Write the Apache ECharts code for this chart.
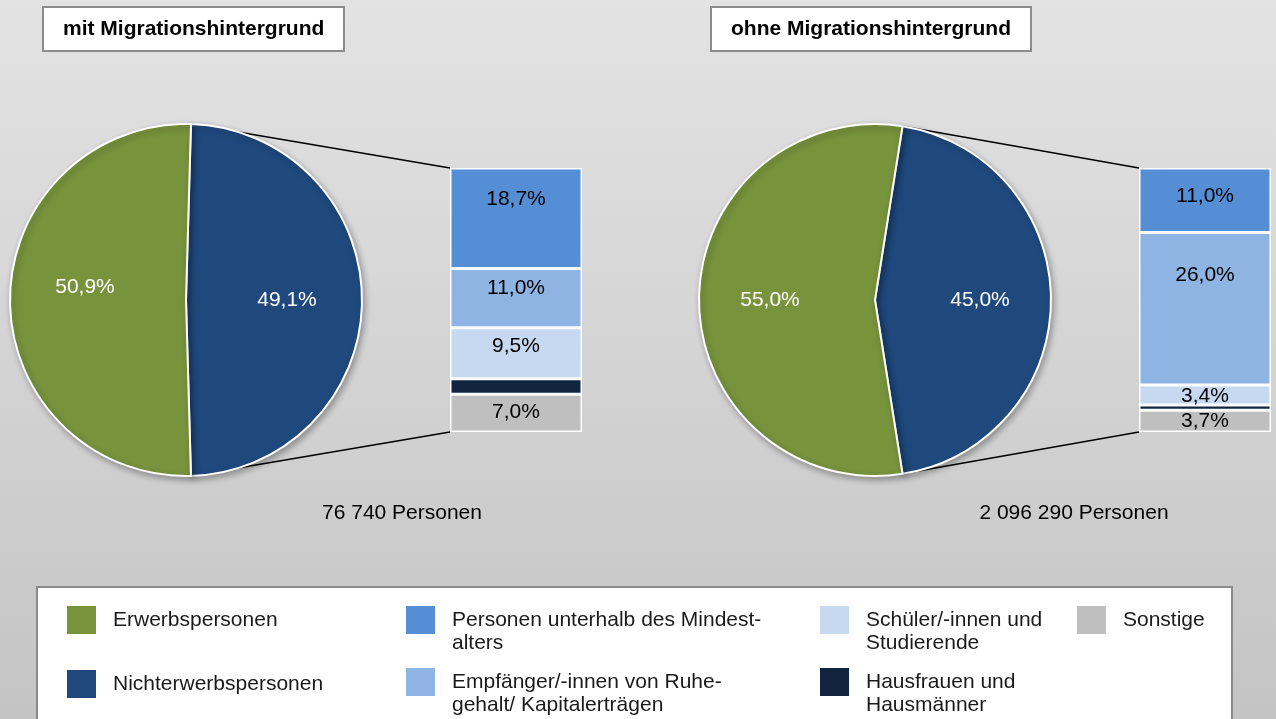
<!DOCTYPE html>
<html><head><meta charset="utf-8">
<script src="https://cdn.jsdelivr.net/npm/echarts@6/dist/echarts.min.js"></script>
<style>html,body{margin:0;padding:0;background:#d6d6d6}#c{width:1276px;height:719px}</style>
</head><body><div id="c"></div>
<script>
// ---- data ----
const panelTitles = ['mit Migrationshintergrund', 'ohne Migrationshintergrund'];
const panelTotals = ['76 740 Personen', '2 096 290 Personen'];
const pieCats = ['Erwerbspersonen', 'Nichterwerbspersonen'];
const pieMit = [50.9, 49.1];
const pieOhne = [55.0, 45.0];
const barCats = ['Personen unterhalb des Mindestalters', 'Empfänger/-innen von Ruhegehalt/ Kapitalerträgen', 'Schüler/-innen und Studierende', 'Hausfrauen und Hausmänner', 'Sonstige'];
const barMit = [18.7, 11.0, 9.5, 2.9, 7.0];
const barOhne = [11.0, 26.0, 3.4, 0.9, 3.7];
const legendLabels = {
  'Erwerbspersonen': ['Erwerbspersonen'],
  'Nichterwerbspersonen': ['Nichterwerbspersonen'],
  'Personen unterhalb des Mindestalters': ['Personen unterhalb des Mindest-', 'alters'],
  'Empfänger/-innen von Ruhegehalt/ Kapitalerträgen': ['Empfänger/-innen von Ruhe-', 'gehalt/ Kapitalerträgen'],
  'Schüler/-innen und Studierende': ['Schüler/-innen und', 'Studierende'],
  'Hausfrauen und Hausmänner': ['Hausfrauen und', 'Hausmänner'],
  'Sonstige': ['Sonstige']
};

// ---- styles / layout ----
const FONT = '"Liberation Sans", Arial, sans-serif';
const FS = 21;
const LH = 23;
const pieColors = ['#77933c', '#1f497d'];
const barColors = ['#558ed5', '#8eb4e3', '#c6d9f1', '#10243f', '#bfbfbf'];
const pieCenters = [[186, 300], [875, 300]];
const pieR = 176;
const grids = [{left: 450, top: 168, width: 132, height: 264}, {left: 1139, top: 168, width: 132, height: 264}];
const barLabelPos = [
  [['50%', 31], ['50%', 20], ['50%', 19], null, ['50%', 18]],
  [['50%', 28], ['50%', 43], ['50%', 11], null, ['50%', 11]]
];
const pieLabelPad = [
  [[0, 20, 0, 0], [0, 0, 0, 20]],
  [[0, 28, 0, 0], [0, 0, 0, 28]]
];
const pieLabelLift = [[true, false], [false, false]];
const totalPos = [[402, 513], [1074, 513]];
const legendPos = {
  'Erwerbspersonen': [65, 604],
  'Nichterwerbspersonen': [65, 668],
  'Personen unterhalb des Mindestalters': [404, 605],
  'Empfänger/-innen von Ruhegehalt/ Kapitalerträgen': [404, 667],
  'Schüler/-innen und Studierende': [818, 605],
  'Hausfrauen und Hausmänner': [818, 667],
  'Sonstige': [1075, 604]
};
const fmt = v => v.toFixed(1).replace('.', ',') + '%';

const pies = [pieMit, pieOhne];
const bars = [barMit, barOhne];

const series = [];
pies.forEach((vals, p) => {
  const start = vals[1] * 3.6 / 2; // Nichterwerbspersonen centred towards the bar
  series.push({
    type: 'pie', name: 'pie' + p, center: pieCenters[p], radius: pieR,
    startAngle: start, clockwise: true, avoidLabelOverlap: false, z: 3,
    labelLine: {show: false},
    itemStyle: {borderColor: '#fff', borderWidth: 2, shadowBlur: 6, shadowOffsetX: 2, shadowOffsetY: 3, shadowColor: 'rgba(0,0,0,0.3)'},
    emphasis: {disabled: true},
    label: {show: true, position: 'inside', color: '#fff', fontSize: FS, fontFamily: FONT, lineHeight: 26,
      formatter: d => fmt(d.value)},
    data: [1, 0].map(i => ({
      name: pieCats[i], value: vals[i],
      itemStyle: {color: pieColors[i]},
      label: {padding: pieLabelPad[p][i],
        formatter: pieLabelLift[p][i] ? (d => fmt(d.value) + '\n') : (d => fmt(d.value))}
    }))
  });
});
bars.forEach((vals, g) => {
  [4, 3, 2, 1, 0].forEach(i => {
    series.push({
      type: 'bar', name: barCats[i], stack: 'st' + g,
      xAxisIndex: g, yAxisIndex: g, barWidth: '100%',
      itemStyle: {color: barColors[i], borderColor: '#fff', borderWidth: 1.5},
      emphasis: {disabled: true},
      label: {show: i !== 3, position: barLabelPos[g][i] || 'inside', align: 'center', verticalAlign: 'middle',
        color: '#000', fontSize: FS, fontFamily: FONT, formatter: d => fmt(d.value)},
      data: [vals[i]]
    });
  });
});

const legendOrder = [pieCats[0], pieCats[1], barCats[0], barCats[1], barCats[2], barCats[3], barCats[4]];
const legends = legendOrder.map(name => {
  const pos = legendPos[name];
  const lines = legendLabels[name];
  // two-line entries: prepend an empty line so the first line sits at the swatch centre
  const txt = lines.length > 1 ? '\n' + lines.join('\n') : lines[0];
  const nLines = lines.length > 1 ? 3 : 1;
  const boxH = nLines * LH;
  const lift = boxH > 30 ? (boxH - 30) / 2 : 0;
  return {
    data: [name], left: pos[0], top: pos[1] - lift, padding: 0,
    itemWidth: 31, itemHeight: 30, icon: 'rect', selectedMode: false,
    formatter: () => txt,
    textStyle: {fontSize: FS, color: '#1a1a1a', fontFamily: FONT, lineHeight: LH, padding: [0, 0, 0, 11]}
  };
});

const chart = echarts.init(document.getElementById('c'));
chart.setOption({
  animation: false,
  backgroundColor: new echarts.graphic.LinearGradient(0, 0, 0, 1, [
    {offset: 0, color: '#e3e3e3'}, {offset: 1, color: '#c4c4c4'}
  ]),
  title: panelTitles.map((t, k) => ({
    text: t, left: k === 0 ? 43 : 711, top: 7,
    backgroundColor: '#fff', borderColor: '#8c8c8c', borderWidth: 2, padding: [10, 20],
    textStyle: {fontSize: FS, fontWeight: 'bold', color: '#000', fontFamily: FONT, lineHeight: 24}
  })),
  legend: legends,
  grid: grids.map(g => ({left: g.left, top: g.top, width: g.width, height: g.height, containLabel: false})),
  xAxis: grids.map((g, k) => ({type: 'category', gridIndex: k, data: [''], show: false})),
  yAxis: bars.map((vals, k) => ({type: 'value', gridIndex: k, min: 0,
    max: Math.round(vals.reduce((a, b) => a + b, 0) * 10) / 10, show: false})),
  series: series
});

// connector lines, legend frame and totals
const graphics = [{
  type: 'rect', z: -10, shape: {x: 37, y: 587, width: 1195, height: 150},
  style: {fill: '#fff', stroke: '#8a8a8a', lineWidth: 2}
}];
pies.forEach((vals, p) => {
  const a = vals[1] * 3.6 / 2 * Math.PI / 180;
  const cx = pieCenters[p][0], cy = pieCenters[p][1];
  const px = cx + pieR * Math.cos(a), py1 = cy - pieR * Math.sin(a), py2 = cy + pieR * Math.sin(a);
  const total = bars[p].reduce((s, v) => s + v, 0);
  const top = chart.convertToPixel({xAxisIndex: p, yAxisIndex: p}, [0, total]);
  const bot = chart.convertToPixel({xAxisIndex: p, yAxisIndex: p}, [0, 0]);
  const bx = grids[p].left;
  graphics.push({type: 'line', z: 1, shape: {x1: px, y1: py1, x2: bx, y2: top[1]}, style: {stroke: '#000', lineWidth: 1.5}});
  graphics.push({type: 'line', z: 1, shape: {x1: px, y1: py2, x2: bx, y2: bot[1]}, style: {stroke: '#000', lineWidth: 1.5}});
  graphics.push({type: 'text', z: 5, x: totalPos[p][0], y: totalPos[p][1],
    style: {text: panelTotals[p], fill: '#000', font: FS + 'px ' + FONT, align: 'center', verticalAlign: 'middle'}});
});
chart.setOption({graphic: graphics});
</script>
</body></html>
